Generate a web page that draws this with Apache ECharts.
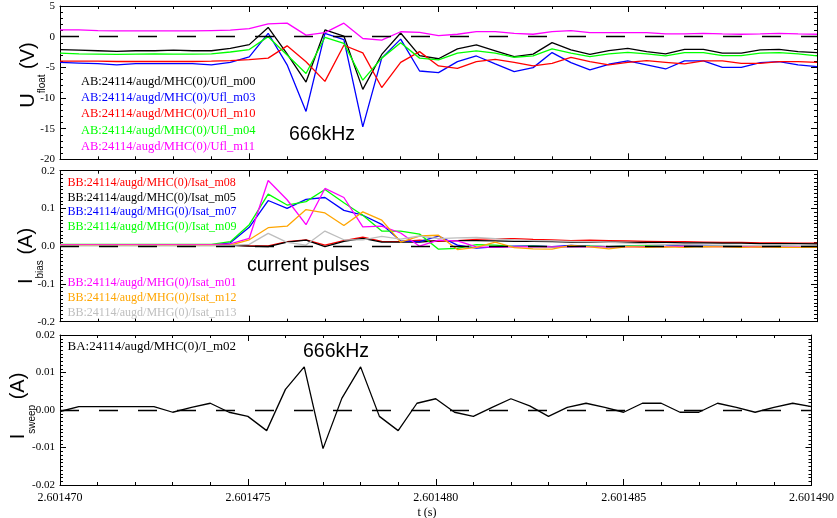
<!DOCTYPE html>
<html><head><meta charset="utf-8">
<script src="https://cdn.jsdelivr.net/npm/echarts@6/dist/echarts.min.js"></script>
<style>html,body{margin:0;padding:0;background:#fff}#c{width:837px;height:518px}</style>
</head><body><div id="c"></div>
<script>
// time in microseconds after 2.601470 s
const timeUs = [0,0.5,1,1.5,2,2.5,3,3.5,4,4.5,5,5.5,6,6.5,7,7.5,8,8.5,9,9.5,10,10.5,11,11.5,12,12.5,13,13.5,14,14.5,15,15.5,16,16.5,17,17.5,18,18.5,19,19.5,20];
const xTickLabels = ['2.601470','2.601475','2.601480','2.601485','2.601490'];
const uTickLabels = ['-20','-15','-10','-5','0','5'];
const biasTickLabels = ['-0.2','-0.1','0.0','0.1','0.2'];
const sweepTickLabels = ['-0.02','-0.01','0.00','0.01','0.02'];

// Panel 1: U_float (V)
const ufl_m00 = [-2.1,-2.2,-2.3,-2.4,-2.3,-2.3,-2.2,-2.3,-2.3,-1.9,-1.3,1.5,-2.8,-7.4,1.1,0.1,-8.6,-2.9,0.6,-3.1,-3.6,-2.0,-1.35,-2.3,-3.25,-2.85,-0.98,-2.17,-2.9,-2.28,-1.9,-2.44,-2.82,-2.06,-2.06,-2.7,-2.7,-2.17,-2.06,-2.44,-2.6];
const ufl_m03 = [-4.2,-4.3,-4.4,-4.6,-4.4,-4.4,-4.4,-4.4,-4.6,-4.2,-3.3,0.55,-4.6,-12.2,0.55,-0.5,-14.7,-3.5,-0.4,-5.6,-5.87,-4.08,-3.15,-4.45,-5.7,-5.05,-2.6,-4.24,-5.43,-4.5,-3.96,-4.6,-5.27,-3.96,-3.96,-5.0,-5.0,-4.24,-4.08,-4.6,-4.9];
const ufl_m10 = [-4.0,-4.0,-4.0,-4.05,-4.05,-4.05,-4.05,-4.05,-4.0,-3.9,-3.75,-3.5,-1.5,-4.1,-7.3,-1.4,-2.65,-8.3,-4.2,-2.44,-4.78,-5.16,-4.08,-3.7,-4.18,-4.78,-4.35,-3.36,-4.08,-4.6,-4.18,-3.9,-4.18,-4.45,-3.96,-3.96,-4.35,-4.35,-4.08,-4.08,-4.18];
const ufl_m04 = [-2.7,-2.8,-2.85,-2.9,-2.85,-2.8,-2.85,-2.85,-2.8,-2.5,-2.1,0.0,-3.0,-6.0,-0.1,-1.1,-7.1,-3.5,-1.0,-3.5,-3.8,-2.7,-2.33,-2.7,-3.36,-3.15,-2.0,-2.7,-3.26,-2.82,-2.55,-2.82,-3.15,-2.6,-2.6,-3.1,-3.1,-2.7,-2.6,-2.8,-3.15];
const ufl_m11 = [1.1,1.1,1.0,0.95,0.95,0.95,0.95,0.95,1.0,1.05,1.3,2.07,2.2,0.25,0.65,2.2,-0.3,-0.55,0.8,0.7,0.17,0.39,0.82,0.82,0.55,0.39,0.82,0.98,0.65,0.65,0.65,0.65,0.44,0.44,0.55,0.44,0.39,0.44,0.55,0.44,0.39];

// Panel 2: I_bias (A)
const isat_m08 = [0.004,0.004,0.004,0.004,0.004,0.004,0.004,0.004,0.004,0.003,0.001,0.001,0.012,0.017,0.003,0.015,0.024,0.013,0.012,0.016,0.013,0.015,0.018,0.02,0.02,0.018,0.017,0.015,0.016,0.015,0.014,0.013,0.012,0.012,0.011,0.01,0.01,0.009,0.009,0.008,0.008];
const isat_m05 = [0.002,0.002,0.002,0.002,0.002,0.002,0.002,0.002,0.002,0.002,0.0,-0.001,0.011,0.016,-0.001,0.013,0.021,0.011,0.011,0.011,0.015,0.015,0.015,0.014,0.013,0.013,0.012,0.011,0.011,0.011,0.01,0.01,0.01,0.009,0.009,0.008,0.008,0.007,0.007,0.007,0.006];
const isat_m07 = [0.003,0.003,0.003,0.004,0.004,0.004,0.003,0.003,0.003,0.009,0.05,0.121,0.1,0.124,0.129,0.095,0.082,0.058,0.014,0.012,0.027,0.003,-0.005,-0.002,0.0,0.001,-0.001,0.002,0.0,-0.001,0.0,-0.001,0.0,0.002,0.002,0.001,0.0,-0.001,0.0,-0.001,-0.002];
const isat_m09 = [0.005,0.005,0.005,0.005,0.005,0.005,0.005,0.005,0.005,0.012,0.057,0.138,0.109,0.118,0.15,0.115,0.082,0.04,0.04,0.032,-0.008,-0.006,0.004,0.003,-0.001,0.0,-0.002,-0.001,0.0,-0.001,0.0,0.001,-0.001,0.0,-0.001,0.0,0.0,-0.001,0.0,-0.001,-0.001];
const isat_m01 = [0.004,0.004,0.004,0.004,0.004,0.004,0.004,0.004,0.004,0.006,0.021,0.174,0.123,0.057,0.153,0.129,0.051,0.053,0.035,0.0,0.016,0.014,-0.002,-0.003,-0.002,-0.001,-0.002,-0.001,-0.002,-0.002,-0.001,-0.002,-0.001,0.0,-0.001,-0.001,-0.002,-0.001,-0.002,-0.001,-0.002];
const isat_m12 = [0.002,0.002,0.002,0.002,0.002,0.002,0.002,0.002,0.002,0.003,0.017,0.049,0.053,0.097,0.088,0.055,0.091,0.069,0.011,0.027,0.029,-0.009,-0.003,0.011,-0.004,-0.007,-0.008,0.002,-0.002,-0.007,-0.001,-0.003,-0.002,-0.003,-0.001,-0.002,-0.003,-0.002,-0.003,-0.003,-0.003];
const isat_m13 = [0.001,0.001,0.001,0.001,0.001,0.001,0.001,0.001,0.001,0.002,0.005,0.034,0.01,0.003,0.04,0.017,0.017,0.026,0.019,0.027,0.02,0.022,0.023,0.02,0.017,0.015,0.014,0.013,0.012,0.01,0.008,0.006,0.005,0.004,0.003,0.003,0.002,0.002,0.001,0.001,0.001];

// Panel 3: I_sweep (A)
const i_m02 = [-0.0004,0.0009,0.0009,0.0009,0.0009,0.0009,-0.0006,0.0007,0.0018,-0.0006,-0.0017,-0.0055,0.0055,0.0115,-0.0103,0.0031,0.0115,-0.0017,-0.0055,0.0018,0.003,-0.0006,-0.0017,0.0007,0.003,0.0011,-0.0017,0.0007,0.0018,0.0007,-0.0006,0.0018,0.0018,-0.0006,-0.0006,0.0018,0.0007,-0.0006,0.0007,0.0018,0.0009];

const legend1 = [['AB:24114/augd/MHC(0)/Ufl_m00','#000000',ufl_m00],['AB:24114/augd/MHC(0)/Ufl_m03','#0000ff',ufl_m03],['AB:24114/augd/MHC(0)/Ufl_m10','#ff0000',ufl_m10],['AB:24114/augd/MHC(0)/Ufl_m04','#00ff00',ufl_m04],['AB:24114/augd/MHC(0)/Ufl_m11','#ff00ff',ufl_m11]];
const legend2a = [['BB:24114/augd/MHC(0)/Isat_m08','#ff0000',isat_m08],['BB:24114/augd/MHC(0)/Isat_m05','#000000',isat_m05],['BB:24114/augd/MHG(0)/Isat_m07','#0000ff',isat_m07],['BB:24114/augd/MHG(0)/Isat_m09','#00ff00',isat_m09]];
const legend2b = [['BB:24114/augd/MHG(0)/Isat_m01','#ff00ff',isat_m01],['BB:24114/augd/MHG(0)/Isat_m12','#ffa500',isat_m12],['BB:24114/augd/MHG(0)/Isat_m13','#bebebe',isat_m13]];
const legend3 = [['BA:24114/augd/MHC(0)/I_m02','#000000',i_m02]];

const grids = [
  {left:60, top:6, width:757, height:153.3},
  {left:60, top:170.7, width:757, height:151},
  {left:60, top:335, width:757, height:150}
];
const yCfg = [
  {min:-20, max:5, interval:5, minor:5, labels:uTickLabels},
  {min:-0.2, max:0.2, interval:0.1, minor:10, labels:biasTickLabels},
  {min:-0.02, max:0.02, interval:0.01, minor:10, labels:sweepTickLabels}
];
const serif = 'Liberation Serif, Times New Roman, serif';
const sans = 'Liberation Sans, Arial, sans-serif';

const xAxes = [], yAxes = [];
grids.forEach((g, i) => {
  ['bottom','top'].forEach(pos => {
    xAxes.push({
      gridIndex:i, type:'value', position:pos, min:0, max:20, interval:5,
      axisLine:{show:true, onZero:false, lineStyle:{color:'#000', width:1}},
      axisTick:{show:true, inside:true, length:6, lineStyle:{color:'#000', width:1}},
      minorTick:{show:true, splitNumber:5, length:3, lineStyle:{color:'#000', width:1}},
      splitLine:{show:false}, minorSplitLine:{show:false},
      axisLabel:{show: i===2 && pos==='bottom', margin:7, color:'#000', fontFamily:serif, fontSize:12,
        formatter: v => xTickLabels[Math.round(v/5)], showMinLabel:true, showMaxLabel:true}
    });
  });
  const c = yCfg[i];
  ['left','right'].forEach(pos => {
    yAxes.push({
      gridIndex:i, type:'value', position:pos, min:c.min, max:c.max, interval:c.interval,
      axisLine:{show:true, onZero:false, lineStyle:{color:'#000', width:1}},
      axisTick:{show:true, inside:true, length:6, lineStyle:{color:'#000', width:1}},
      minorTick:{show:true, splitNumber:c.minor, length:3, lineStyle:{color:'#000', width:1}},
      splitLine:{show:false}, minorSplitLine:{show:false},
      axisLabel:{show: pos==='left', margin:5, color:'#000', fontFamily:serif, fontSize:11,
        formatter: v => c.labels[Math.round((v - c.min)/c.interval)], showMinLabel:true, showMaxLabel:true}
    });
  });
});

const series = [];
function addSeries(list, gi) {
  list.forEach((item, k) => {
    const s = {
      type:'line', name:item[0], xAxisIndex:2*gi, yAxisIndex:2*gi,
      data: timeUs.map((t, j) => [t, item[2][j]]),
      symbol:'none', silent:true, animation:false,
      lineStyle:{color:item[1], width:1.3}, itemStyle:{color:item[1]}
    };
    if (k === 0) {
      s.markLine = {silent:true, symbol:'none', animation:false, label:{show:false},
        lineStyle:{color:'#000', width:1.3, type:[19,20]}, data:[{yAxis:0}]};
    }
    series.push(s);
  });
}
addSeries(legend1, 0);
addSeries(legend2a.concat(legend2b), 1);
addSeries(legend3, 2);

const graphic = [];
function txt(x, y, text, color, size, family) {
  graphic.push({type:'text', x:x, y:y, silent:true,
    style:{text:text, fill:color, fontSize:size, fontFamily:family, align:'left', verticalAlign:'middle'}});
}
const l1y = [81.7, 97.9, 114.1, 130.4, 146.6];
legend1.forEach((it, k) => txt(81, l1y[k], it[0], it[1], 12.5, serif));
const l2ay = [183.3, 197.8, 212.3, 226.8];
legend2a.forEach((it, k) => txt(67.5, l2ay[k], it[0], it[1], 12, serif));
const l2by = [283.3, 297.8, 312.5];
legend2b.forEach((it, k) => txt(67.5, l2by[k], it[0], it[1], 12, serif));
txt(67.5, 346.7, legend3[0][0], '#000', 13, serif);
txt(289, 135, '666kHz', '#000', 19.5, sans);
txt(247, 266, 'current pulses', '#000', 19.5, sans);
txt(303, 352, '666kHz', '#000', 19.5, sans);
graphic.push({type:'text', x:427, y:513, silent:true,
  style:{text:'t (s)', fill:'#000', fontSize:12, fontFamily:serif, align:'center', verticalAlign:'middle'}});

function ytitle(x, y, main, sub, unit) {
  graphic.push({type:'text', x:x, y:y, rotation:Math.PI/2, silent:true,
    style:{text:'{m|' + main + '}{s|' + sub + '}{m| ' + unit + '}', align:'center', verticalAlign:'middle', fill:'#000',
      rich:{
        m:{fontSize:20, fontFamily:sans, lineHeight:40, verticalAlign:'middle', fill:'#000'},
        s:{fontSize:10, fontFamily:sans, lineHeight:10, padding:[28,0,0,0], verticalAlign:'middle', fill:'#000'}
      }}});
}
ytitle(28, 75, 'U', 'float', '(V)');
ytitle(26, 256, 'I', 'bias', '(A)');
ytitle(18, 406, 'I', 'sweep', '(A)');

const chart = echarts.init(document.getElementById('c'), null, {renderer:'canvas'});
chart.setOption({
  animation:false, backgroundColor:'#fff',
  grid:grids, xAxis:xAxes, yAxis:yAxes, series:series, graphic:graphic
});
</script></body></html>
